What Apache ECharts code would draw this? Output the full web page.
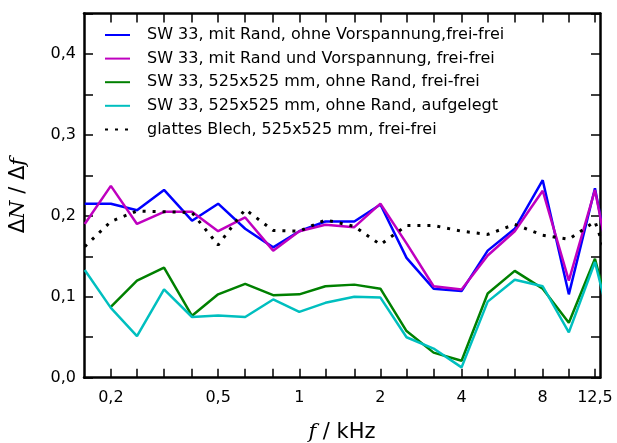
<!DOCTYPE html>
<html>
<head>
<meta charset="utf-8">
<script src="https://cdn.jsdelivr.net/npm/echarts@6/dist/echarts.min.js"></script>
<style>
  html, body { margin: 0; padding: 0; background: #fff; }
  #chart { width: 617px; height: 443px; }
</style>
</head>
<body>
<div id="chart"></div>
<script>
// third-octave bands in kHz (last one is clipped by the axis)
var freqs = [0.16, 0.2, 0.25, 0.315, 0.4, 0.5, 0.63, 0.8, 1, 1.25, 1.6, 2, 2.5, 3.15, 4, 5, 6.3, 8, 10, 12.5, 16];

var blueVals    = [0.215, 0.215, 0.207, 0.232, 0.194, 0.215, 0.184, 0.161, 0.181, 0.193, 0.193, 0.214, 0.148, 0.110, 0.107, 0.157, 0.184, 0.244, 0.103, 0.234, 0.05];
var magentaVals = [0.190, 0.237, 0.190, 0.205, 0.205, 0.181, 0.198, 0.157, 0.181, 0.189, 0.186, 0.215, 0.166, 0.113, 0.109, 0.151, 0.181, 0.231, 0.120, 0.232, 0.05];
var greenVals   = [null, 0.0875, 0.120, 0.136, 0.0765, 0.103, 0.116, 0.102, 0.103, 0.113, 0.115, 0.110, 0.0576, 0.031, 0.021, 0.104, 0.132, 0.110, 0.068, 0.147, 0.01];
var cyanVals    = [0.133, 0.0863, 0.0514, 0.109, 0.075, 0.077, 0.075, 0.0967, 0.0814, 0.0925, 0.0999, 0.099, 0.050, 0.036, 0.0128, 0.094, 0.121, 0.113, 0.056, 0.143, 0.0];
var blechVals   = [0.162, 0.193, 0.206, 0.205, 0.204, 0.164, 0.208, 0.182, 0.181, 0.195, 0.187, 0.1645, 0.188, 0.188, 0.181, 0.177, 0.1895, 0.176, 0.171, 0.193, 0.09];

var names = [
  'SW 33, mit Rand, ohne Vorspannung,frei-frei',
  'SW 33, mit Rand und Vorspannung, frei-frei',
  'SW 33, 525x525 mm, ohne Rand, frei-frei',
  'SW 33, 525x525 mm, ohne Rand, aufgelegt',
  'glattes Blech, 525x525 mm, frei-frei'
];
var xLabelVals = [0.2, 0.5, 1, 2, 4, 8, 12.5];
var xTickVals = freqs.slice(1, 20);
var yLabelVals = [0, 0.1, 0.2, 0.3, 0.4];

function pairs(vals) {
  var out = [];
  for (var i = 0; i < freqs.length; i++) {
    if (vals[i] != null) out.push([freqs[i], vals[i]]);
  }
  return out;
}

function comma(v) { return String(v).replace('.', ','); }

var chart = echarts.init(document.getElementById('chart'));

var xBase = {
  type: 'log',
  logBase: 10,
  min: 0.159,
  max: 13.05,
  axisLine: { show: true, onZero: false, lineStyle: { color: '#000', width: 2.5 } },
  axisTick: { show: true, inside: true, length: 9, customValues: xTickVals, lineStyle: { color: '#000', width: 1.5 } },
  minorTick: { show: false },
  splitLine: { show: false },
  minorSplitLine: { show: false }
};

var yBase = {
  type: 'value',
  min: 0,
  max: 0.45,
  interval: 0.05,
  axisLine: { show: true, onZero: false, lineStyle: { color: '#000', width: 2.5 } },
  axisTick: { show: true, inside: true, length: 9, lineStyle: { color: '#000', width: 1.5 } },
  splitLine: { show: false }
};

var option = {
  animation: false,
  textStyle: { fontFamily: 'DejaVu Sans' },
  grid: { left: 84, right: 17, top: 13.5, bottom: 65.3, containLabel: false, outerBoundsMode: 'none' },
  legend: {
    orient: 'vertical',
    left: 99,
    top: 22,
    itemWidth: 25,
    itemHeight: 14,
    itemGap: 7.6,
    itemStyle: { opacity: 0 },
    textStyle: { fontSize: 16, color: '#000', fontFamily: 'DejaVu Sans', padding: [0, 0, 0, 12] },
    data: names
  },
  xAxis: [
    Object.assign({}, xBase, {
      position: 'bottom',
      axisLabel: {
        show: true, customValues: xLabelVals, fontSize: 16, color: '#000', margin: 12,
        formatter: function (v) { return comma(v); }
      },
      name: '{i|f} / kHz',
      nameLocation: 'middle',
      nameGap: 44,
      nameTextStyle: {
        fontSize: 21, color: '#000', fontFamily: 'DejaVu Sans',
        rich: { i: { fontSize: 21, fontStyle: 'italic', fontFamily: 'DejaVu Serif' } }
      }
    }),
    Object.assign({}, xBase, {
      position: 'top',
      axisLabel: { show: false }
    })
  ],
  yAxis: [
    Object.assign({}, yBase, {
      position: 'left',
      axisLabel: {
        show: true, customValues: yLabelVals, fontSize: 16, color: '#000', margin: 8,
        formatter: function (v) { return v.toFixed(1).replace('.', ','); }
      },
      name: 'Δ{i|N} / Δ{i|f}',
      nameLocation: 'middle',
      nameGap: 55,
      nameRotate: 90,
      nameTextStyle: {
        fontSize: 21, color: '#000', fontFamily: 'DejaVu Sans',
        rich: { i: { fontSize: 21, fontStyle: 'italic', fontFamily: 'DejaVu Serif' } }
      }
    }),
    Object.assign({}, yBase, {
      position: 'right',
      axisLabel: { show: false }
    })
  ],
  series: [
    { name: names[0], type: 'line', data: pairs(blueVals), symbol: 'none', lineStyle: { color: '#0000ff', width: 2.5 }, itemStyle: { color: '#0000ff' } },
    { name: names[1], type: 'line', data: pairs(magentaVals), symbol: 'none', lineStyle: { color: '#bf00bf', width: 2.5 }, itemStyle: { color: '#bf00bf' } },
    { name: names[2], type: 'line', data: pairs(greenVals), symbol: 'none', lineStyle: { color: '#008000', width: 2.5 }, itemStyle: { color: '#008000' } },
    { name: names[3], type: 'line', data: pairs(cyanVals), symbol: 'none', lineStyle: { color: '#00bfbf', width: 2.5 }, itemStyle: { color: '#00bfbf' } },
    { name: names[4], type: 'line', data: pairs(blechVals), symbol: 'none', lineStyle: { color: '#000', width: 3, type: [3, 7] }, itemStyle: { color: '#000' } }
  ]
};

chart.setOption(option);
</script>
</body>
</html>
